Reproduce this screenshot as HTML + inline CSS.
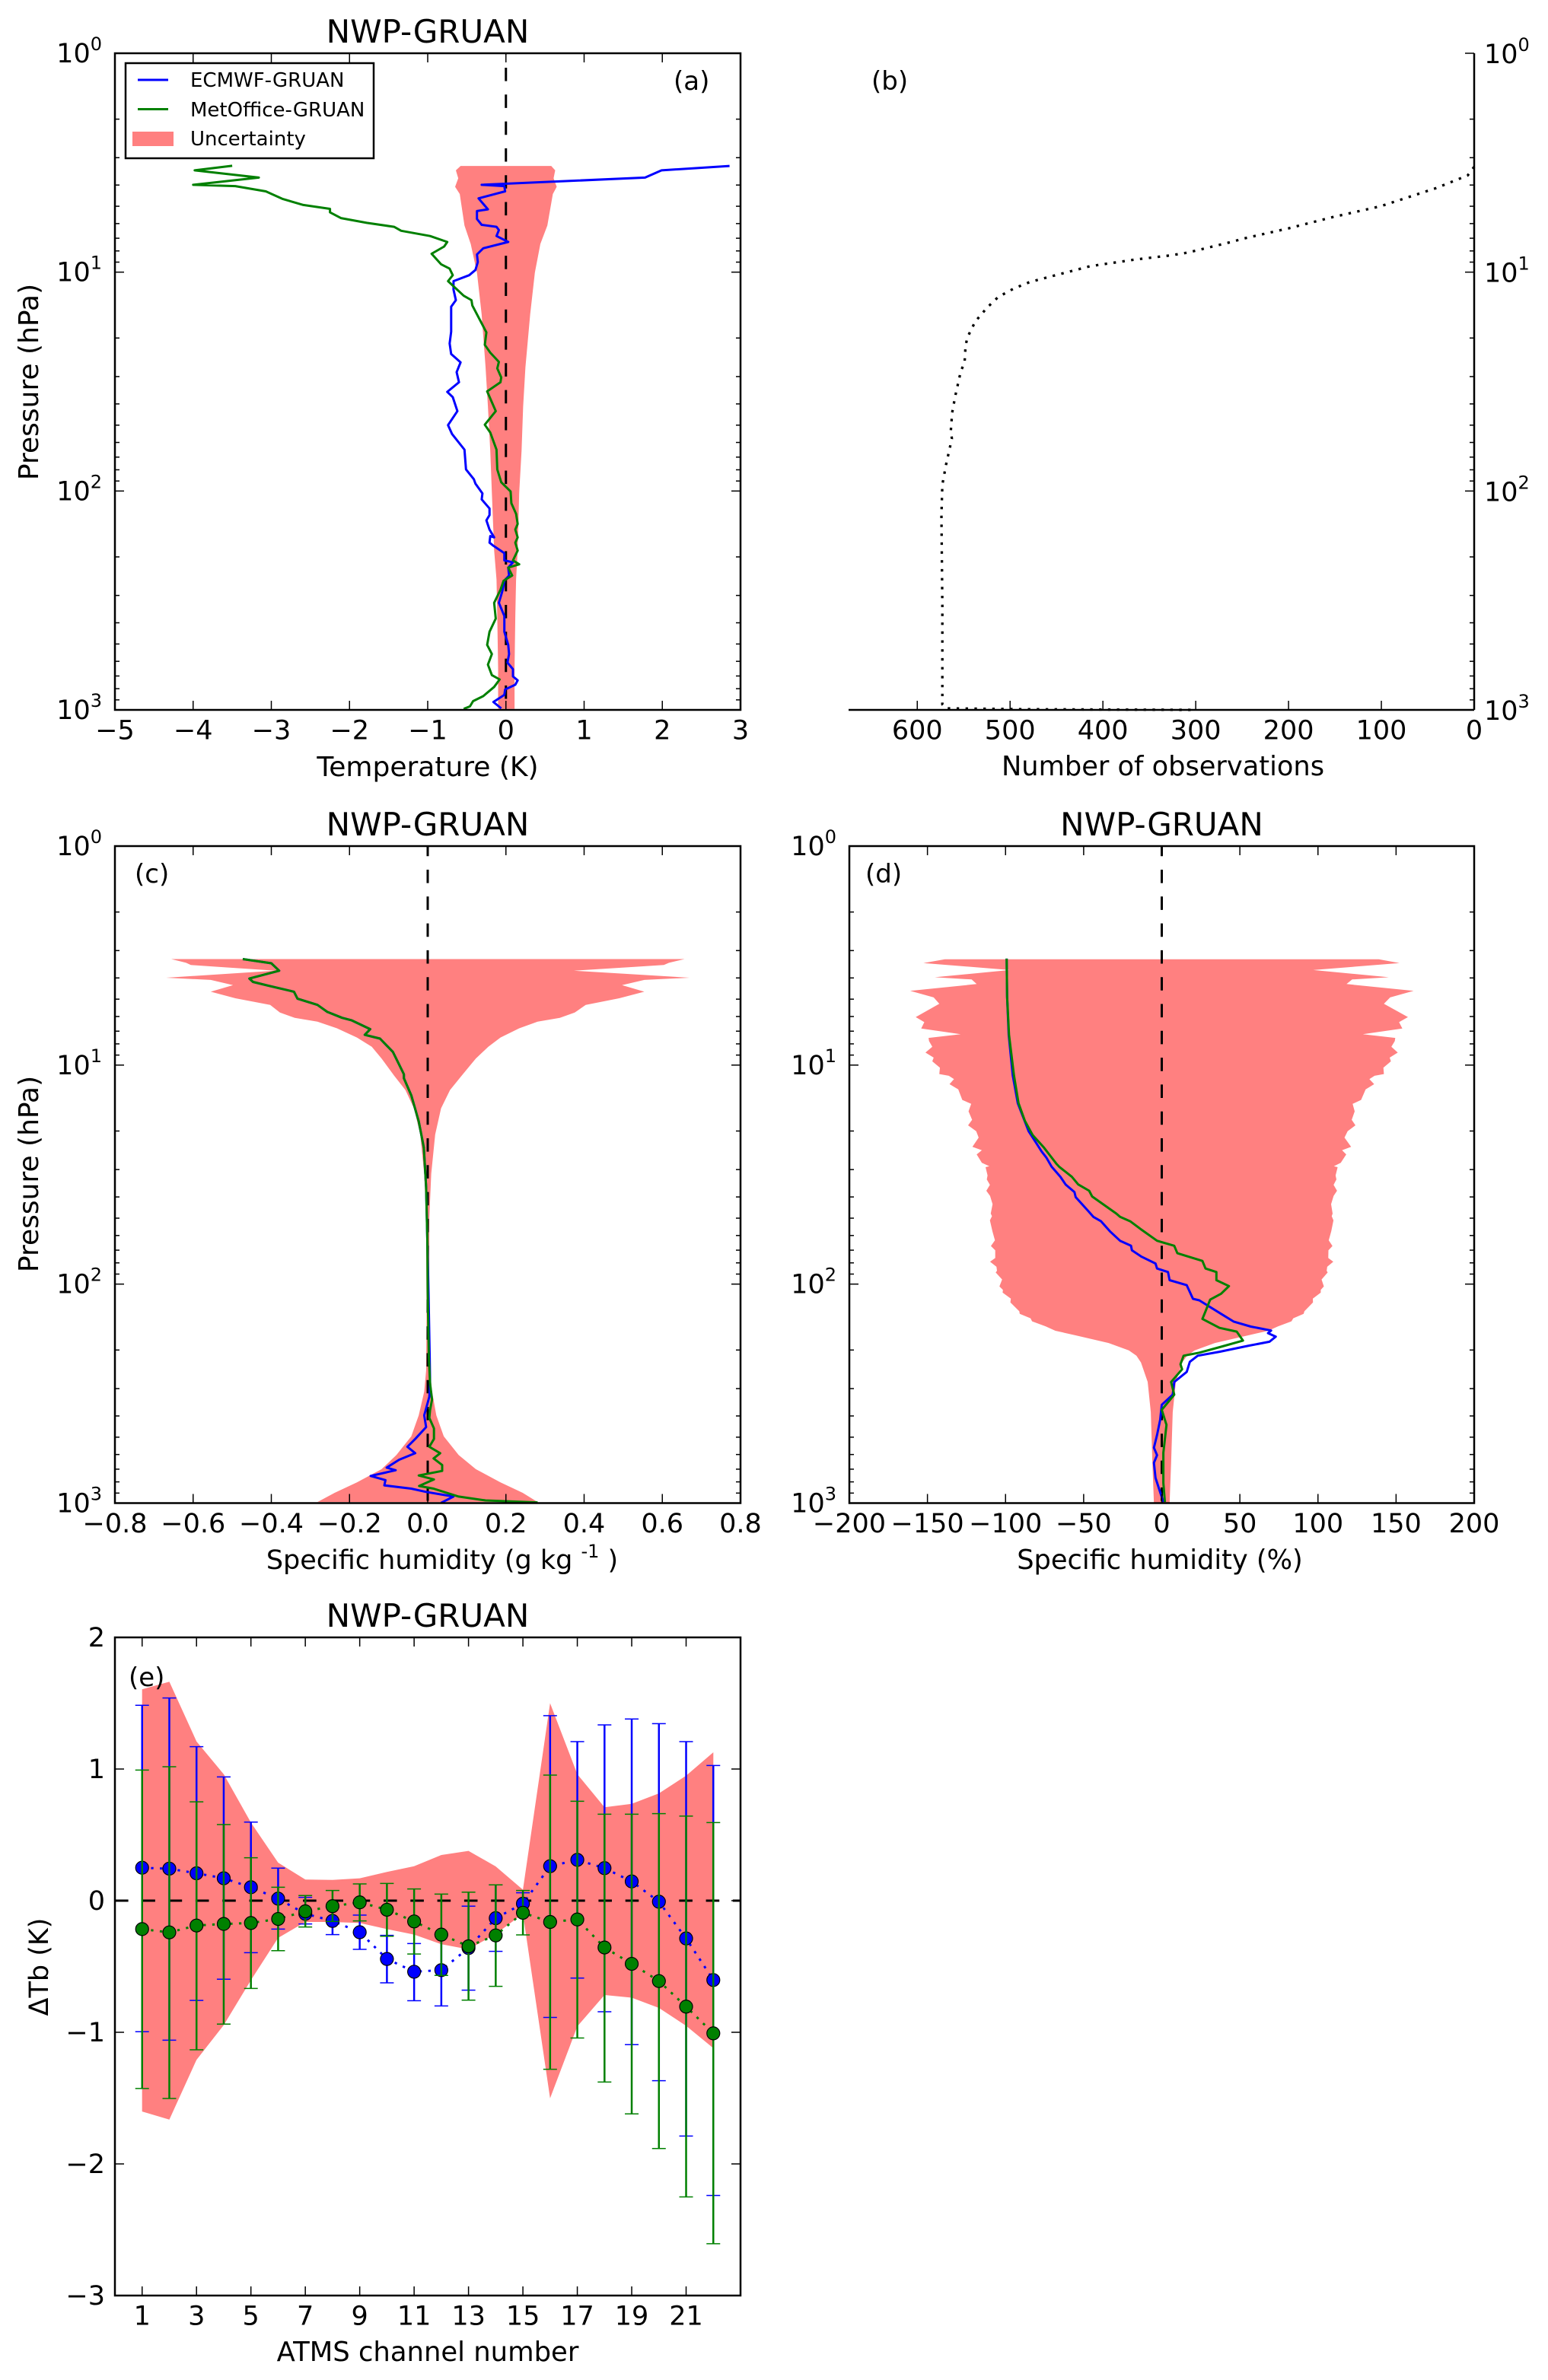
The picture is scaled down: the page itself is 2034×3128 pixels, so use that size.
<!DOCTYPE html>
<html>
<head>
<meta charset="utf-8">
<title>NWP-GRUAN comparison</title>
<style>
html,body{margin:0;padding:0;background:#fff;}
svg{display:block;}
text{font-family:"DejaVu Sans","Liberation Sans",sans-serif;fill:#000;}
.t{font-size:42px;text-anchor:middle;}
.l{font-size:35px;text-anchor:middle;}
.p{font-size:34px;}
.g{font-size:26px;}
</style>
</head>
<body>
<svg id="fig" xmlns="http://www.w3.org/2000/svg" width="2034" height="3128" viewBox="0 0 2034 3128">
<rect x="0" y="0" width="2034" height="3128" fill="#fff"/>

<g id="panelA"></g>
<g id="panelB"></g>
<g id="panelC"></g>
<g id="panelD"></g>
<g id="panelE"></g>

<text class="t" x="562" y="56">NWP-GRUAN</text>
<text class="t" x="562" y="1098">NWP-GRUAN</text>
<text class="t" x="1526.5" y="1098">NWP-GRUAN</text>
<text class="t" x="562" y="2138">NWP-GRUAN</text>

<text class="l" style="font-size:36px" x="562" y="1020">Temperature (K)</text>
<text class="l" style="font-size:35.2px" x="1528" y="1019">Number of observations</text>
<text class="l" x="581" y="2062">Specific humidity (g kg <tspan font-size="24" dy="-15">-1</tspan><tspan dy="15"> )</tspan></text>
<text class="l" style="font-size:35.2px" x="1524" y="2062">Specific humidity (%)</text>
<text class="l" style="font-size:35.4px" x="562" y="3103">ATMS channel number</text>

<text class="l" style="font-size:36px" transform="translate(50,502) rotate(-90)">Pressure (hPa)</text>
<text class="l" style="font-size:36px" transform="translate(50,1543) rotate(-90)">Pressure (hPa)</text>
<text class="l" transform="translate(63,2585) rotate(-90)">&#916;Tb (K)</text>

<text class="p" x="885" y="118">(a)</text>
<text class="p" x="1145" y="118">(b)</text>
<text class="p" x="177" y="1160">(c)</text>
<text class="p" x="1137" y="1160">(d)</text>
<text class="p" x="169" y="2216">(e)</text>

<g>
  <rect x="165" y="83" width="326" height="125" fill="#fff" stroke="#000" stroke-width="2.5"/>
  <line x1="181" x2="221" y1="105" y2="105" stroke="#0000ff" stroke-width="3"/>
  <text class="g" x="250" y="114">ECMWF-GRUAN</text>
  <line x1="181" x2="221" y1="143.500" y2="143.500" stroke="#008000" stroke-width="3"/>
  <text class="g" x="250" y="153">MetOffice-GRUAN</text>
  <rect x="174" y="173" width="54" height="19" fill="#ff8080"/>
  <text class="g" x="250" y="191">Uncertainty</text>
</g>
</svg>

<script>
/* ---------- shared tick data ---------- */
const logDecades = [0, 1, 2, 3];
const logMinorFactors = [2, 3, 4, 5, 6, 7, 8, 9];
const aXTicks = [-5, -4, -3, -2, -1, 0, 1, 2, 3];
const aXLabels = ['\u22125', '\u22124', '\u22123', '\u22122', '\u22121', '0', '1', '2', '3'];
const bXTicks = [600, 500, 400, 300, 200, 100, 0];
const bXLabels = ['600', '500', '400', '300', '200', '100', '0'];
const cXTicks = [-0.8, -0.6, -0.4, -0.2, 0, 0.2, 0.4, 0.6, 0.8];
const cXLabels = ['\u22120.8', '\u22120.6', '\u22120.4', '\u22120.2', '0.0', '0.2', '0.4', '0.6', '0.8'];
const dXTicks = [-200, -150, -100, -50, 0, 50, 100, 150, 200];
const dXLabels = ['\u2212200', '\u2212150', '\u2212100', '\u221250', '0', '50', '100', '150', '200'];
const eXTicks = [1, 3, 5, 7, 9, 11, 13, 15, 17, 19, 21];
const eXLabels = ['1', '3', '5', '7', '9', '11', '13', '15', '17', '19', '21'];
const eYTicks = [2, 1, 0, -1, -2, -3];
const eYLabels = ['2', '1', '0', '\u22121', '\u22122', '\u22123'];

/* ---------- panel (a): temperature difference (K) vs log10 pressure ---------- */
const aEcmwfLogP = [0.515,0.535,0.568,0.601,0.607,0.631,0.663,0.713,0.721,0.757,0.784,0.793,0.808,0.835,0.862,0.891,0.919,0.954,0.990,1.014,1.041,1.080,1.128,1.158,1.272,1.326,1.374,1.412,1.457,1.503,1.547,1.571,1.635,1.699,1.739,1.811,1.901,1.946,1.966,2.011,2.038,2.080,2.110,2.134,2.176,2.212,2.206,2.236,2.250,2.284,2.317,2.326,2.350,2.386,2.410,2.451,2.511,2.571,2.643,2.703,2.745,2.784,2.814,2.847,2.865,2.885,2.907,2.931,2.964,2.993];
const aEcmwfDiff = [2.86,1.99,1.78,-0.31,-0.02,-0.01,-0.35,-0.23,-0.37,-0.37,-0.31,-0.12,-0.09,-0.12,0.03,-0.29,-0.37,-0.36,-0.39,-0.47,-0.67,-0.67,-0.64,-0.70,-0.70,-0.72,-0.70,-0.58,-0.63,-0.60,-0.75,-0.68,-0.62,-0.74,-0.69,-0.53,-0.51,-0.41,-0.39,-0.30,-0.31,-0.21,-0.21,-0.25,-0.21,-0.15,-0.20,-0.21,-0.16,-0.02,-0.02,0.09,0.03,0.04,-0.02,-0.04,-0.09,-0.02,-0.02,0.03,0.04,0.02,0.09,0.09,0.15,0.12,-0.01,-0.02,-0.16,-0.06];
const aMetLogP = [0.514,0.535,0.568,0.601,0.607,0.631,0.665,0.693,0.711,0.727,0.753,0.775,0.793,0.811,0.835,0.862,0.883,0.916,0.964,0.984,1.014,1.041,1.108,1.128,1.152,1.275,1.332,1.368,1.410,1.440,1.481,1.503,1.545,1.635,1.697,1.733,1.811,1.901,1.960,2.002,2.056,2.104,2.150,2.176,2.212,2.236,2.272,2.317,2.335,2.350,2.386,2.410,2.451,2.511,2.583,2.643,2.703,2.745,2.793,2.841,2.861,2.895,2.937,2.960,2.984,2.995];
const aMetDiff = [-3.50,-3.98,-3.16,-4.00,-3.46,-3.07,-2.86,-2.59,-2.25,-2.25,-2.11,-1.78,-1.43,-1.34,-0.97,-0.75,-0.79,-0.95,-0.83,-0.72,-0.68,-0.74,-0.54,-0.44,-0.43,-0.25,-0.27,-0.20,-0.09,-0.11,-0.06,-0.07,-0.24,-0.13,-0.27,-0.20,-0.12,-0.11,-0.06,0.06,0.07,0.13,0.15,0.12,0.15,0.12,0.15,0.09,0.17,0.03,0.08,-0.03,-0.07,-0.15,-0.13,-0.21,-0.24,-0.18,-0.23,-0.18,-0.08,-0.15,-0.29,-0.42,-0.46,-0.54];
const aBandLogP = [0.515,0.535,0.571,0.610,0.643,0.787,0.871,1.002,1.194,1.434,1.613,1.817,2.009,2.272,2.404,2.571,2.811,2.995];
const aBandLow = [-0.58,-0.64,-0.61,-0.65,-0.59,-0.53,-0.45,-0.37,-0.31,-0.26,-0.23,-0.20,-0.18,-0.15,-0.12,-0.11,-0.10,-0.10];
const aBandHigh = [0.58,0.63,0.61,0.65,0.60,0.53,0.44,0.37,0.31,0.25,0.22,0.20,0.17,0.15,0.13,0.12,0.11,0.11];

/* ---------- panel (b): number of observations ---------- */
const bLogP = [0.519,0.558,0.616,0.699,0.749,0.80,0.846,0.863,0.911,0.924,0.943,0.973,1.014,1.045,1.075,1.114,1.163,1.226,1.298,1.337,1.414,1.451,1.564,1.642,1.722,1.761,1.879,1.971,2.11,2.525,2.848,2.975,2.993,2.997,3.0];
const bCount = [0,7,41,101,153,200,248,262.6,309,328,366.5,413.8,451,478.6,496,513,525,537.6,546,548,549,553,559,562.4,563.8,562.7,569,573,574,573,573,573,569,487,300];

/* ---------- panel (c): specific humidity difference (g/kg) ---------- */
const cBandLogP = [0.516,0.533,0.543,0.569,0.601,0.611,0.635,0.665,0.695,0.725,0.760,0.784,0.802,0.832,0.874,0.916,0.970,1.048,1.114,1.198,1.317,1.497,1.698,2.156,2.395,2.491,2.599,2.695,2.78,2.845,2.905,2.953,2.995];
const cBandLow = [-0.656,-0.618,-0.606,-0.39,-0.669,-0.555,-0.498,-0.555,-0.492,-0.403,-0.378,-0.34,-0.282,-0.232,-0.181,-0.143,-0.118,-0.086,-0.057,-0.035,-0.019,-0.009,-0.004,-0.003,-0.004,-0.009,-0.023,-0.042,-0.08,-0.118,-0.181,-0.238,-0.282];
const cBandHigh = [0.657,0.617,0.604,0.374,0.670,0.554,0.497,0.554,0.49,0.404,0.376,0.338,0.281,0.234,0.186,0.155,0.123,0.087,0.057,0.034,0.019,0.009,0.004,0.004,0.006,0.011,0.022,0.041,0.079,0.123,0.186,0.243,0.281];
const cEcmwfLogP = [0.516,0.535,0.569,0.605,0.620,0.637,0.665,0.697,0.725,0.757,0.784,0.796,0.836,0.862,0.879,0.940,1.042,1.060,1.138,1.257,1.377,1.557,1.796,2.036,2.335,2.455,2.515,2.599,2.653,2.707,2.743,2.772,2.802,2.838,2.85,2.876,2.895,2.919,2.934,2.949,2.97,2.999];
const cEcmwfDiff = [-0.473,-0.400,-0.380,-0.456,-0.447,-0.409,-0.342,-0.333,-0.282,-0.257,-0.219,-0.194,-0.147,-0.161,-0.122,-0.089,-0.061,-0.061,-0.042,-0.023,-0.01,-0.004,-0.001,0.002,0.005,0.006,0.004,-0.009,-0.004,-0.032,-0.052,-0.032,-0.073,-0.105,-0.082,-0.146,-0.108,-0.111,-0.042,-0.004,0.066,0.034];
const cMetLogP = [0.516,0.535,0.569,0.605,0.620,0.637,0.665,0.697,0.725,0.757,0.784,0.796,0.836,0.862,0.879,0.940,1.042,1.060,1.138,1.257,1.377,1.557,1.796,2.036,2.335,2.455,2.527,2.575,2.611,2.659,2.707,2.743,2.772,2.796,2.826,2.853,2.874,2.892,2.922,2.934,2.97,2.988,2.997];
const cMetDiff = [-0.473,-0.400,-0.380,-0.456,-0.447,-0.409,-0.342,-0.333,-0.282,-0.257,-0.219,-0.194,-0.147,-0.161,-0.122,-0.089,-0.061,-0.061,-0.042,-0.023,-0.01,-0.004,-0.001,0,0.003,0.006,0.011,0.006,0.004,0.016,0.016,0.004,0.032,0.015,0.037,0.037,-0.023,0.016,-0.022,0.015,0.079,0.148,0.281];

/* ---------- panel (d): specific humidity difference (%) ---------- */
const dBandLogP = [0.517,0.534,0.566,0.599,0.609,0.630,0.661,0.691,0.720,0.781,0.804,0.833,0.859,0.876,0.890,0.916,0.943,0.966,0.983,1.012,1.041,1.049,1.064,1.087,1.111,1.159,1.177,1.211,1.25,1.275,1.302,1.331,1.373,1.389,1.408,1.446,1.462,1.466,1.504,1.522,1.547,1.574,1.597,1.635,1.678,1.690,1.709,1.759,1.8,1.826,1.846,1.881,1.898,1.921,1.939,1.947,1.979,2.011,2.026,2.039,2.066,2.084,2.124,2.136,2.156,2.170,2.193,2.213,2.234,2.269,2.303,2.327,2.358,2.447,2.585,2.816,3.0];
const dBandLow = [-138.8,-152.6,-97.4,-145.3,-121.7,-118.5,-161,-146,-142.4,-157.5,-152,-154,-128.7,-149.3,-149,-146.9,-151.3,-146,-146.9,-142,-142.4,-136.3,-133,-135.9,-130.3,-127.7,-122,-123.7,-121.4,-124,-118.8,-117.2,-121.2,-115.2,-118.5,-115.2,-110.4,-112.8,-111.5,-112,-110,-112.3,-109.9,-108.3,-109.5,-108.7,-110,-108.4,-106.8,-109.4,-106.6,-106.6,-109.9,-105.8,-105.5,-106.3,-102.2,-103.9,-101.7,-101.9,-96.6,-96.9,-91.2,-90.9,-84,-83,-74.3,-68.1,-55.2,-34,-21,-16.2,-13.3,-9,-7,-6,-5];
const dBandHigh = [138.9,152.2,97,145.4,121.9,118.3,161.2,146.2,142.2,157.6,151.9,154,128.7,149.5,149.2,147,151.1,145.9,146.7,141.9,142.2,136.2,132.9,136,130.5,127.6,122.2,123.5,121.6,124,119,117,121.2,115.4,118.1,114.6,110.2,112.6,111.3,111.8,110,112.2,110,108.4,109.4,108.8,109.9,108.5,106.9,109.3,106.7,106.6,109.8,105.9,105.6,106.2,102.3,103.8,101.8,101.8,96.7,96.8,91.3,90.8,84.2,83,74.4,68.2,55.4,34,21,16.2,13,9,7,6,5];
const dEcmwfLogP = [0.514,0.688,0.862,1.047,1.174,1.244,1.302,1.365,1.394,1.423,1.464,1.51,1.545,1.58,1.603,1.667,1.693,1.713,1.759,1.802,1.825,1.846,1.875,1.906,1.929,1.945,1.982,2.005,2.067,2.074,2.136,2.171,2.194,2.212,2.224,2.24,2.263,2.281,2.309,2.327,2.355,2.401,2.447,2.505,2.551,2.62,2.689,2.747,2.781,2.816,2.885,2.995];
const dEcmwfDiff = [-99.3,-99,-98,-95.4,-92.2,-88.4,-85.2,-79.5,-77,-73.8,-70.5,-64.9,-61.6,-55.9,-55.1,-47,-43.8,-38.9,-33.2,-26.7,-19.7,-19.1,-12.9,-4,-3,4,5,16,20,24,38,46,57,70,68,73,69,56,37,23,18,16,8,7,0,-1,-3,-5,-3,-5,-4,1];
const dMetLogP = [0.514,0.688,0.862,1.047,1.174,1.255,1.319,1.377,1.452,1.464,1.510,1.545,1.574,1.6,1.678,1.693,1.713,1.748,1.802,1.825,1.859,1.894,1.929,1.945,1.982,2.009,2.044,2.071,2.124,2.159,2.2,2.217,2.258,2.286,2.313,2.327,2.366,2.389,2.447,2.505,2.574,2.643,2.77,2.908,2.995];
const dMetDiff = [-99.3,-99,-97.8,-94.6,-91.7,-87.6,-82.7,-75.4,-67.3,-65.7,-57.6,-53.5,-46.5,-44.6,-29.1,-26.7,-20.2,-13.7,-3,8,10,26,28,35,35,43,38,31,28,26,37,48,52,38,24,14,12,13,6,8,0,3,1,1,2];

/* ---------- panel (e): ATMS channels ---------- */
const eChannels = [1,2,3,4,5,6,7,8,9,10,11,12,13,14,15,16,17,18,19,20,21,22];
const eBandHigh = [1.605,1.663,1.21,0.96,0.593,0.289,0.16,0.158,0.17,0.218,0.262,0.347,0.378,0.26,0.083,1.5,0.96,0.709,0.736,0.815,0.95,1.127];
const eBandLow = [-1.602,-1.663,-1.209,-0.945,-0.604,-0.283,-0.162,-0.162,-0.17,-0.216,-0.258,-0.331,-0.37,-0.254,-0.1,-1.501,-0.955,-0.717,-0.737,-0.815,-0.951,-1.121];
const eEcmwfMean = [0.25,0.243,0.208,0.17,0.102,0.015,-0.10,-0.154,-0.24,-0.443,-0.54,-0.528,-0.36,-0.133,-0.023,0.262,0.31,0.247,0.146,-0.008,-0.287,-0.603];
const eEcmwfTop = [1.484,1.54,1.17,0.94,0.597,0.247,0.025,-0.05,-0.11,-0.264,-0.326,-0.26,-0.042,0.12,0.06,1.405,1.208,1.335,1.38,1.345,1.208,1.027];
const eEcmwfBottom = [-0.996,-1.06,-0.758,-0.597,-0.395,-0.216,-0.177,-0.258,-0.37,-0.624,-0.76,-0.80,-0.68,-0.385,-0.10,-0.887,-0.588,-0.844,-1.094,-1.368,-1.788,-2.24];
const eMetMean = [-0.216,-0.241,-0.189,-0.177,-0.17,-0.139,-0.081,-0.042,-0.013,-0.069,-0.158,-0.258,-0.347,-0.264,-0.092,-0.162,-0.143,-0.356,-0.48,-0.611,-0.805,-1.008];
const eMetTop = [0.992,1.017,0.751,0.578,0.326,0.102,0.039,0.077,0.127,0.131,0.089,0.05,0.064,0.12,0.077,0.954,0.755,0.657,0.657,0.661,0.642,0.593];
const eMetBottom = [-1.427,-1.503,-1.133,-0.938,-0.667,-0.38,-0.2,-0.158,-0.154,-0.27,-0.405,-0.568,-0.756,-0.651,-0.26,-1.281,-1.043,-1.378,-1.62,-1.883,-2.251,-2.606];

/* ---------- drawing helpers ---------- */
const NS = 'http://www.w3.org/2000/svg';

function addPath(parent, d, fill, stroke, width, dash, offset, name) {
  const el = document.createElementNS(NS, 'path');
  
  
  el.setAttribute('d', d);
  el.setAttribute('fill', fill);
  if (stroke !== 'none') {
    el.setAttribute('stroke', stroke);
    el.setAttribute('stroke-width', width);
    el.setAttribute('stroke-linejoin', 'round');
  }
  if (dash) {
    el.setAttribute('stroke-dasharray', dash);
    el.setAttribute('stroke-dashoffset', offset);
  }
  parent.appendChild(el);
  return el;
}

function addSeg(parent, x1, y1, x2, y2, width, name) {
  const el = document.createElementNS(NS, 'line');
  
  
  el.setAttribute('x1', x1);
  el.setAttribute('y1', y1);
  el.setAttribute('x2', x2);
  el.setAttribute('y2', y2);
  el.setAttribute('stroke', '#000');
  el.setAttribute('stroke-width', width);
  parent.appendChild(el);
  return el;
}

function addLabel(parent, x, y, anchor, str, name) {
  const el = document.createElementNS(NS, 'text');
  
  
  el.setAttribute('x', x);
  el.setAttribute('y', y);
  el.setAttribute('text-anchor', anchor);
  el.setAttribute('font-size', '35');
  el.textContent = str;
  parent.appendChild(el);
  return el;
}

function addLogLabel(parent, x, y, anchor, exp) {
  const el = addLabel(parent, x, y, anchor, '10', 'y-tick-label');
  const sup = document.createElementNS(NS, 'tspan');
  sup.setAttribute('font-size', '24');
  sup.setAttribute('dy', '-16');
  sup.textContent = String(exp);
  el.appendChild(sup);
  return el;
}

function linePath(xs, ys, sx, sy) {
  return xs.map((v, i) => (i ? 'L' : 'M') + sx(v).toFixed(1) + ' ' + sy(ys[i]).toFixed(1)).join('');
}

function bandPath(lev, low, high, sx, sy) {
  let d = '';
  for (let i = 0; i < lev.length; i++) d += (i ? 'L' : 'M') + sx(low[i]).toFixed(1) + ' ' + sy(lev[i]).toFixed(1);
  for (let i = lev.length - 1; i >= 0; i--) d += 'L' + sx(high[i]).toFixed(1) + ' ' + sy(lev[i]).toFixed(1);
  return d + 'Z';
}

function makeScale(d0, d1, p0, p1) {
  return v => p0 + (v - d0) / (d1 - d0) * (p1 - p0);
}

function drawLogYAxis(g, sy, left, right, showLeft, showRight, labelLeft) {
  logDecades.forEach(dec => {
    if (showLeft) addSeg(g, left, sy(dec), left + 12, sy(dec), 1.5, 'y-major-tick');
    if (showRight) addSeg(g, right, sy(dec), right - 12, sy(dec), 1.5, 'y-major-tick');
    if (labelLeft) addLogLabel(g, left - 17, sy(dec) + 12, 'end', dec);
    else addLogLabel(g, right + 13, sy(dec) + 13, 'start', dec);
    if (dec < 3) logMinorFactors.forEach(m => {
      const v = dec + Math.log10(m);
      if (showLeft) addSeg(g, left, sy(v), left + 6, sy(v), 1.5, 'y-minor-tick');
      if (showRight) addSeg(g, right, sy(v), right - 6, sy(v), 1.5, 'y-minor-tick');
    });
  });
}

function drawXAxis(g, sx, top, bottom, ticks, labels, showTop) {
  ticks.forEach((t, i) => {
    addSeg(g, sx(t), bottom, sx(t), bottom - 12, 1.5, 'x-tick');
    if (showTop) addSeg(g, sx(t), top, sx(t), top + 12, 1.5, 'x-tick');
    addLabel(g, sx(t), bottom + 38.5, 'middle', labels[i], 'x-tick-label');
  });
}

function drawFrame(g, l, r, t, b) {
  const el = document.createElementNS(NS, 'rect');
  
  
  el.setAttribute('x', l);
  el.setAttribute('y', t);
  el.setAttribute('width', r - l);
  el.setAttribute('height', b - t);
  el.setAttribute('fill', 'none');
  el.setAttribute('stroke', '#000');
  el.setAttribute('stroke-width', '2.5');
  g.appendChild(el);
}

const BLUE = '#0000ff', GREEN = '#008000', BAND = '#ff8080';
const DASH = '17.6 17.7', DOT = '3.3 8.4';

function profilePanel(g, cfg) {
  const sx = makeScale(cfg.xmin, cfg.xmax, cfg.l, cfg.r);
  const sy = makeScale(0, 3, cfg.t, cfg.b);
  addPath(g, bandPath(cfg.bandLev, cfg.bandLow, cfg.bandHigh, sx, sy), BAND, 'none', 0, null, 0, 'uncertainty-band');
  addPath(g, 'M' + sx(0) + ' ' + cfg.t + 'L' + sx(0) + ' ' + cfg.b, 'none', '#000', 3, DASH, cfg.dashOffset, 'zero-reference-line');
  addPath(g, linePath(cfg.blueX, cfg.blueLev, sx, sy), 'none', BLUE, 3, null, 0, 'ecmwf-line');
  addPath(g, linePath(cfg.greenX, cfg.greenLev, sx, sy), 'none', GREEN, 3, null, 0, 'metoffice-line');
  drawLogYAxis(g, sy, cfg.l, cfg.r, true, true, cfg.labelLeft);
  drawXAxis(g, sx, cfg.t, cfg.b, cfg.xTicks, cfg.xLabels, true);
  drawFrame(g, cfg.l, cfg.r, cfg.t, cfg.b);
}

/* panel a */
profilePanel(document.getElementById('panelA'), {
  l: 151, r: 973, t: 70, b: 933, xmin: -5, xmax: 3, dashOffset: 16.3, labelLeft: true,
  bandLev: aBandLogP, bandLow: aBandLow, bandHigh: aBandHigh,
  blueX: aEcmwfDiff, blueLev: aEcmwfLogP, greenX: aMetDiff, greenLev: aMetLogP,
  xTicks: aXTicks, xLabels: aXLabels
});

/* panel c */
profilePanel(document.getElementById('panelC'), {
  l: 151, r: 973, t: 1112, b: 1975.5, xmin: -0.8, xmax: 0.8, dashOffset: 4.3, labelLeft: true,
  bandLev: cBandLogP, bandLow: cBandLow, bandHigh: cBandHigh,
  blueX: cEcmwfDiff, blueLev: cEcmwfLogP, greenX: cMetDiff, greenLev: cMetLogP,
  xTicks: cXTicks, xLabels: cXLabels
});

/* panel d */
profilePanel(document.getElementById('panelD'), {
  l: 1116, r: 1937, t: 1112, b: 1975.5, xmin: -200, xmax: 200, dashOffset: 4.3, labelLeft: true,
  bandLev: dBandLogP, bandLow: dBandLow, bandHigh: dBandHigh,
  blueX: dEcmwfDiff, blueLev: dEcmwfLogP, greenX: dMetDiff, greenLev: dMetLogP,
  xTicks: dXTicks, xLabels: dXLabels
});

/* panel b */
(function () {
  const g = document.getElementById('panelB');
  const l = 1115, r = 1937, t = 70, b = 933;
  const sx = makeScale(674, 0, l, r);
  const sy = makeScale(0, 3, t, b);
  addPath(g, linePath(bCount, bLogP, sx, sy), 'none', '#000', 3.3, DOT, 0, 'observation-count-line');
  drawLogYAxis(g, sy, l, r, false, true, false);
  drawXAxis(g, sx, t, b, bXTicks, bXLabels, false);
  addSeg(g, r, t, r, b, 2.5, 'right-spine');
  addSeg(g, l, b, r, b, 2.5, 'bottom-spine');
})();

/* panel e */
(function () {
  const g = document.getElementById('panelE');
  const l = 151, r = 973, t = 2152, b = 3017;
  const sx = makeScale(0, 23, l, r);
  const sy = makeScale(2, -3, t, b);
  let d = '';
  eChannels.forEach((c, i) => { d += (i ? 'L' : 'M') + sx(c).toFixed(1) + ' ' + sy(eBandHigh[i]).toFixed(1); });
  for (let i = eChannels.length - 1; i >= 0; i--) d += 'L' + sx(eChannels[i]).toFixed(1) + ' ' + sy(eBandLow[i]).toFixed(1);
  addPath(g, d + 'Z', BAND, 'none', 0, null, 0, 'uncertainty-band');
  addPath(g, 'M' + l + ' ' + sy(0) + 'L' + r + ' ' + sy(0), 'none', '#000', 3, DASH, 0, 'zero-reference-line');

  function series(mean, top, bottom, color, label) {
    addPath(g, linePath(eChannels, mean, sx, sy), 'none', color, 3, DOT, 0, label + '-dotted-line');
    eChannels.forEach((c, i) => {
      const x = sx(c);
      const yt = sy(top[i]), yb = sy(bottom[i]);
      addPath(g, 'M' + x + ' ' + yt + 'L' + x + ' ' + yb, 'none', color, 2.5, null, 0, label + '-error-bar');
      addPath(g, 'M' + (x - 9) + ' ' + yt + 'L' + (x + 9) + ' ' + yt, 'none', color, 1.5, null, 0, label + '-error-cap');
      addPath(g, 'M' + (x - 9) + ' ' + yb + 'L' + (x + 9) + ' ' + yb, 'none', color, 1.5, null, 0, label + '-error-cap');
    });
    eChannels.forEach((c, i) => {
      const el = document.createElementNS(NS, 'circle');
      
      
      el.setAttribute('cx', sx(c));
      el.setAttribute('cy', sy(mean[i]));
      el.setAttribute('r', '8.500');
      el.setAttribute('fill', color);
      el.setAttribute('stroke', '#000');
      el.setAttribute('stroke-width', '1.2');
      g.appendChild(el);
    });
  }
  series(eEcmwfMean, eEcmwfTop, eEcmwfBottom, BLUE, 'ecmwf');
  series(eMetMean, eMetTop, eMetBottom, GREEN, 'metoffice');

  eYTicks.forEach((v, i) => {
    addSeg(g, l, sy(v), l + 12, sy(v), 1.5, 'y-major-tick');
    addSeg(g, r, sy(v), r - 12, sy(v), 1.5, 'y-major-tick');
    addLabel(g, l - 13, sy(v) + 12, 'end', eYLabels[i], 'y-tick-label');
  });
  drawXAxis(g, sx, t, b, eXTicks, eXLabels, true);
  drawFrame(g, l, r, t, b);
})();
</script>
</body>
</html>
